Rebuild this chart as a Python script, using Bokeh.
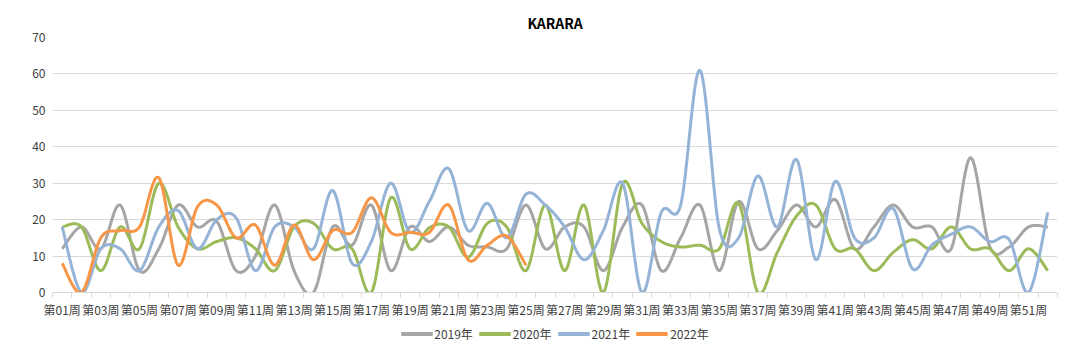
import numpy as np
from bokeh.plotting import figure
from bokeh.layouts import column
from bokeh.models import Range1d, FixedTicker, Legend, LegendItem
from bokeh.embed import file_html
from bokeh.resources import INLINE

weeks = [f"第{i:02d}周" for i in range(1, 53)]

y2019 = [12, 18, 12, 24, 6, 12, 24, 18, 19.5, 6, 10, 24, 6, 0, 18, 13,
         24, 6, 18, 14, 18, 13, 12.5, 12, 24, 12, 18, 18, 6, 18, 24, 6, 15,
         24, 6, 25, 12, 17, 24, 18, 25.5, 12, 18, 24, 18, 18, 12, 37, 12.5, 12.5, 18, 18]
y2020 = [18, 18, 6, 18, 12, 30, 18, 12, 14, 15, 12, 6, 18, 19, 12, 12,
         0, 26, 12, 17.8, 18, 9.7, 19, 18, 6, 24, 6, 24, 0, 30, 19, 14, 12.5,
         13, 12, 24.5, 0, 11, 21, 24, 12, 12, 6, 11, 14.5, 12, 18, 12, 12, 6, 12, 6]
y2021 = [18, 0, 12, 12, 6, 18, 22.5, 12, 20, 20.5, 6, 18, 18, 12, 28, 8,
         14, 30, 16.5, 25, 34, 17, 24.5, 15, 27, 24, 18, 9, 17, 30, 0, 22, 24,
         61, 17.6, 15, 32, 18, 36.5, 9, 30.5, 15, 15, 23, 6.5, 13, 16, 18, 14, 14.5, 0, 22]
y2022 = [8, 0, 15, 17, 18, 31.5, 7.5, 23.5, 24, 15, 18.5, 7.5, 18.5, 9, 17, 16.5,
         26, 16.5, 16.5, 16.5, 24, 9, 13, 15.5, 7.5]

series = [("2019年", y2019, "#A5A5A5"), ("2020年", y2020, "#9BBB59"),
          ("2021年", y2021, "#95B3D7"), ("2022年", y2022, "#F79646")]


def smooth(xs, ys, n=24):
    xs = np.asarray(xs, float)
    ys = np.asarray(ys, float)
    ox, oy = [], []
    m = len(xs)
    for i in range(m - 1):
        p0 = max(i - 1, 0)
        p3 = min(i + 2, m - 1)
        x1, x2 = xs[i], xs[i + 1]
        y1, y2 = ys[i], ys[i + 1]
        c1x = x1 + (x2 - xs[p0]) / 6
        c1y = y1 + (y2 - ys[p0]) / 6
        c2x = x2 - (xs[p3] - x1) / 6
        c2y = y2 - (ys[p3] - y1) / 6
        t = np.linspace(0, 1, n, endpoint=(i == m - 2))
        a = (1 - t) ** 3
        b = 3 * (1 - t) ** 2 * t
        c = 3 * (1 - t) * t ** 2
        d = t ** 3
        ox.extend(a * x1 + b * c1x + c * c2x + d * x2)
        oy.extend(a * y1 + b * c1y + c * c2y + d * y2)
    return ox, oy


FONT = "Noto Sans CJK SC"
TXT = "#404040"

p = figure(width=1080, height=320, output_backend="svg", toolbar_location=None,
           x_range=Range1d(0.5, 52.5), y_range=Range1d(0, 70),
           min_border_left=52, min_border_right=23, min_border_top=37,
           min_border_bottom=25)
p.title.text = "KARARA"
p.title.align = "center"
p.title.text_font = FONT
p.title.text_font_size = "14px"
p.title.text_font_style = "bold"
p.title.text_color = "#000000"
p.outline_line_color = None

for name, ys, col in series:
    xs = list(range(1, len(ys) + 1))
    sx, sy = smooth(xs, ys)
    p.line(sx, sy, line_color=col, line_width=3)

xa = p.xaxis[0]
xa.ticker = FixedTicker(ticks=list(range(1, 53, 2)),
                        minor_ticks=[i + 0.5 for i in range(0, 53)])
xa.major_label_overrides = {i: weeks[i - 1] for i in range(1, 53)}
xa.major_tick_line_color = None
xa.major_tick_out = 0
xa.major_tick_in = 0
xa.minor_tick_line_color = "#D9D9D9"
xa.minor_tick_out = 5
xa.minor_tick_in = 0
xa.axis_line_color = "#D9D9D9"
xa.major_label_text_font = FONT
xa.major_label_text_font_size = "12px"
xa.major_label_text_color = TXT
xa.major_label_standoff = 3

ya = p.yaxis[0]
ya.ticker = FixedTicker(ticks=list(range(0, 71, 10)))
ya.axis_line_color = None
ya.major_tick_line_color = None
ya.major_tick_out = 0
ya.major_tick_in = 0
ya.minor_tick_line_color = None
ya.major_label_text_font = FONT
ya.major_label_text_font_size = "12px"
ya.major_label_text_color = TXT
ya.major_label_standoff = 7

p.xgrid.grid_line_color = None
p.ygrid.grid_line_color = "#D9D9D9"
p.ygrid.ticker = FixedTicker(ticks=list(range(10, 71, 10)))

# legend strip below the chart
lg = figure(width=1080, height=26, output_backend="svg", toolbar_location=None,
            x_range=Range1d(0.5, 52.5), y_range=Range1d(1000, 1001),
            min_border=0)
lg.axis.visible = False
lg.grid.visible = False
lg.outline_line_color = None
items = []
for name, ys, col in series:
    xs = list(range(1, len(ys) + 1))
    r = lg.line(xs, ys, line_color=col, line_width=4)
    items.append(LegendItem(label=name, renderers=[r]))
legend = Legend(items=items, orientation="horizontal", location="center",
                glyph_width=32, glyph_height=10, label_standoff=2, spacing=6,
                label_text_font=FONT, label_text_font_size="12px",
                label_text_color=TXT, border_line_color=None,
                background_fill_alpha=0, padding=2, margin=0)
lg.add_layout(legend, "center")

layout = column(p, lg, spacing=0)
open("out.html", "w").write(file_html(layout, INLINE))
